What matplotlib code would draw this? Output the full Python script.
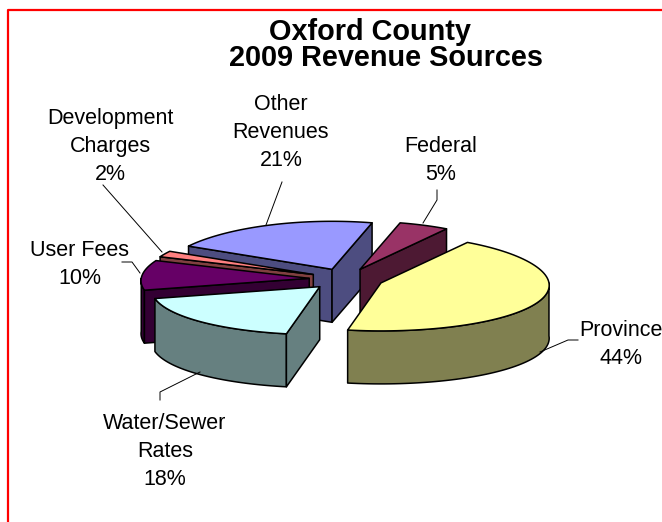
import numpy as np
import matplotlib
matplotlib.use("Agg")
import matplotlib.pyplot as plt
from matplotlib.patches import Polygon

# data, clockwise from the first slice
categories = ["Federal", "Province", "Water/Sewer\nRates", "User Fees", "Development\nCharges", "Other\nRevenues"]
values = [5, 44, 18, 10, 2, 21]
topColors = ["#993366", "#FFFF99", "#CCFFFF", "#660066", "#FF8080", "#9999FF"]
sideColors = ["#4D1933", "#808050", "#668080", "#330033", "#804040", "#4D4D80"]
drawOrder = [5, 0, 4, 3, 2, 1]  # back to front

# label centres in pixels, one per category
labelX = [441, 621, 165, 80, 110, 281]
labelY = [147, 331, 424, 251, 119, 105]
leaderLines = [
    [(437, 190), (437, 200), (423, 223)],
    [(578, 340), (568, 340), (540, 352)],
    [(160, 400), (160, 392), (200, 372)],
    [(122, 262), (132, 262), (140, 273)],
    [(103, 185), (162, 252)],
    [(282, 182), (266, 225)],
]

# pie geometry in pixels
centerX, centerY = 346, 279
radiusX, radiusY = 168, 48
thickness = 53
explode = 0.22
startAngle = 14.5
perspective = 0.05

plt.rcParams["font.family"] = ["Liberation Sans", "DejaVu Sans"]
fig = plt.figure(figsize=(6.62, 5.22), dpi=100)
ax = fig.add_axes([0, 0, 1, 1])
ax.set_xlim(0, 662)
ax.set_ylim(522, 0)
ax.axis("off")

# red frame, only left and top reach inside the picture
ax.plot([7.5, 7.5, 662], [522, 9.5, 9.5], color="red", lw=1.6, solid_capstyle="butt")

def rim(angles):
    a = np.radians(angles)
    return radiusX * np.sin(a) * (1 - perspective * np.cos(a)), -radiusY * np.cos(a)

def face(xs, ys, color, z):
    ax.add_patch(Polygon(np.column_stack([xs, ys]), closed=True, facecolor=color,
                         edgecolor="black", lw=1.1, joinstyle="round", zorder=z))

angles = startAngle + np.cumsum([0] + values[:-1]) * 3.6
for z, i in enumerate(drawOrder):
    t0 = angles[i]
    t1 = t0 + values[i] * 3.6
    dx, dy = rim((t0 + t1) / 2)
    apexX = centerX + explode * dx
    apexY = centerY + explode * dy
    z0 = z * 10
    # outer wall, only the part that faces the viewer
    lo = max(t0, 90)
    hi = min(t1, 270)
    if lo < hi:
        rx, ry = rim(np.linspace(lo, hi, 60))
        rx = apexX + rx
        ry = apexY + ry
        face(np.r_[rx, rx[::-1]], np.r_[ry, ry[::-1] + thickness], sideColors[i], z0)
    # cut faces
    for t, show in ((t0, np.sin(np.radians(t0)) < 0), (t1, np.sin(np.radians(t1)) > 0)):
        if show:
            ex, ey = rim(t)
            xs = [apexX, apexX + ex, apexX + ex, apexX]
            ys = [apexY, apexY + ey, apexY + ey + thickness, apexY + thickness]
            face(xs, ys, sideColors[i], z0 + 1)
    # top
    rx, ry = rim(np.linspace(t0, t1, 80))
    face(np.r_[apexX, apexX + rx], np.r_[apexY, apexY + ry], topColors[i], z0 + 2)

for i, name in enumerate(categories):
    label = name + "\n" + str(values[i]) + "%"
    nLines = label.count("\n")
    ax.text(labelX[i], labelY[i] + nLines * 13.8, label, ha="center", va="center", fontsize=15.5,
            linespacing=1.44, color="black", zorder=100)
    pts = np.array(leaderLines[i])
    ax.plot(pts[:, 0], pts[:, 1], color="black", lw=0.7, zorder=90)

ax.text(370, 32, "Oxford County", ha="center", va="center", fontsize=20.8, fontweight="bold")
ax.text(386, 58, "2009 Revenue Sources", ha="center", va="center", fontsize=20.8, fontweight="bold")

fig.savefig("out.png", dpi=100)
